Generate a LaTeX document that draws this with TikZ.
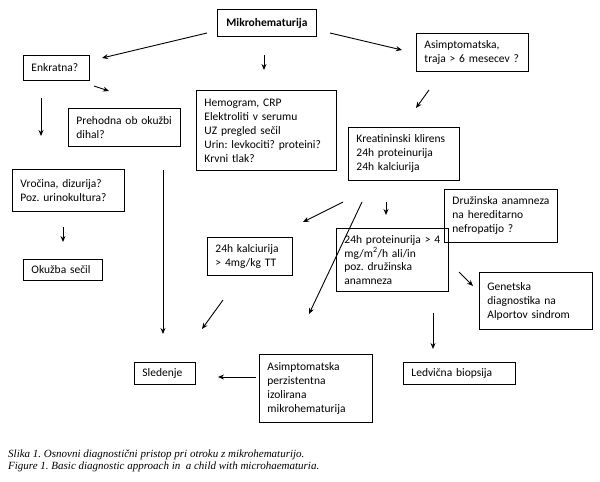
\documentclass[tikz,border=0pt]{standalone}
\usepackage{fontspec}
\setmainfont{Carlito}
\newfontfamily\capfont{Liberation Serif}
\usetikzlibrary{arrows.meta}
\begin{document}
\frenchspacing
\begin{tikzpicture}[x=1pt,y=-1pt,
  bx/.style={draw, line width=0.9pt, anchor=north west, align=left, inner xsep=8pt, inner ysep=0pt, font=\fontsize{11.5}{14}\selectfont},
  arr/.style={line width=0.9pt, -{Stealth[length=6pt,width=5pt]}}]
\useasboundingbox (0,0) rectangle (600,482);
% boxes
\node[bx, align=center, text width=83pt, minimum height=27pt, font=\fontsize{11.5}{14}\selectfont\bfseries] (mikro) at (217,9) {Mikrohematurija};
\node[bx, text width=50pt, minimum height=25pt] (enk) at (23,55) {Enkratna?};
\node[bx, text width=96pt, minimum height=38pt] (preh) at (68,108) {Prehodna ob okužbi\\dihal?};
\node[bx, text width=124pt, minimum height=80pt] (hemo) at (196,90) {Hemogram, CRP\\Elektroliti v serumu\\UZ pregled sečil\\Urin: levkociti? proteini?\\Krvni tlak?};
\node[bx, text width=96pt, minimum height=42pt] (vroc) at (12,169) {Vročina, dizurija?\\Poz. urinokultura?};
\node[bx, text width=63pt, minimum height=21pt] (okuz) at (23,259) {Okužba sečil};
\node[bx, text width=69pt, minimum height=38pt] (kalc) at (207,237) {24h kalciurija\\> 4mg/kg TT};
\node[bx, text width=45pt, minimum height=22pt] (sled) at (134,362) {Sledenje};
\node[bx, text width=97pt, minimum height=68pt] (apim) at (259,354) {Asimptomatska\\perzistentna\\izolirana\\mikrohematurija};
\node[bx, text width=96pt, minimum height=38pt] (asim) at (416,33) {Asimptomatska,\\traja > 6 mesecev ?};
\node[bx, text width=95pt, minimum height=53pt] (krea) at (348,127) {Kreatininski klirens\\24h proteinurija\\24h kalciurija};
\node[bx, text width=97pt, minimum height=53pt] (druz) at (444,189) {Družinska anamneza\\na hereditarno\\nefropatijo ?};
\node[bx, text width=96pt, minimum height=63pt, font=\fontsize{11.5}{13.4}\selectfont] (prot) at (336,228) {24h proteinurija > 4\\mg/m\textsuperscript{2}/h ali/in\\poz. družinska\\anamneza};
\node[bx, text width=97pt, minimum height=57pt] (gen) at (479,272) {Genetska\\diagnostika na\\Alportov sindrom};
\node[bx, text width=96pt, minimum height=22pt] (ledv) at (403,362) {Ledvična biopsija};
% arrow end points
\coordinate (a1s) at (207,33);  \coordinate (a1e) at (102,58);
\coordinate (a2s) at (264,55);  \coordinate (a2e) at (264,70);
\coordinate (a3s) at (94,86);   \coordinate (a3e) at (109,91);
\coordinate (a4s) at (41,98);   \coordinate (a4e) at (41,136);
\coordinate (a5s) at (330,33);  \coordinate (a5e) at (402,50);
\coordinate (a6s) at (429,90);  \coordinate (a6e) at (416,108);
\coordinate (a7s) at (163,170); \coordinate (a7e) at (163,334);
\coordinate (a8s) at (63,227);  \coordinate (a8e) at (63,242);
\coordinate (a9s) at (223,300); \coordinate (a9e) at (202,329);
\coordinate (a10s) at (256,377); \coordinate (a10e) at (218,377);
\coordinate (a11s) at (343,202); \coordinate (a11e) at (303,222);
\coordinate (a12s) at (362,202); \coordinate (a12e) at (309,314);
\coordinate (a13s) at (386,202); \coordinate (a13e) at (386,215);
\coordinate (a14s) at (459,272); \coordinate (a14e) at (473,286);
\coordinate (a15s) at (433,313); \coordinate (a15e) at (433,349);
\foreach \i in {1,...,15} {\draw[arr] (a\i s) -- (a\i e);}
% caption
\node[anchor=west, align=left, inner sep=0pt, font=\capfont\itshape\fontsize{11}{12.3}\selectfont] (cap) at (8,461) {Slika 1. Osnovni diagnostični pristop pri otroku z mikrohematurijo.\\Figure 1. Basic diagnostic approach in\ \ a child with microhaematuria.};
\end{tikzpicture}
\end{document}
